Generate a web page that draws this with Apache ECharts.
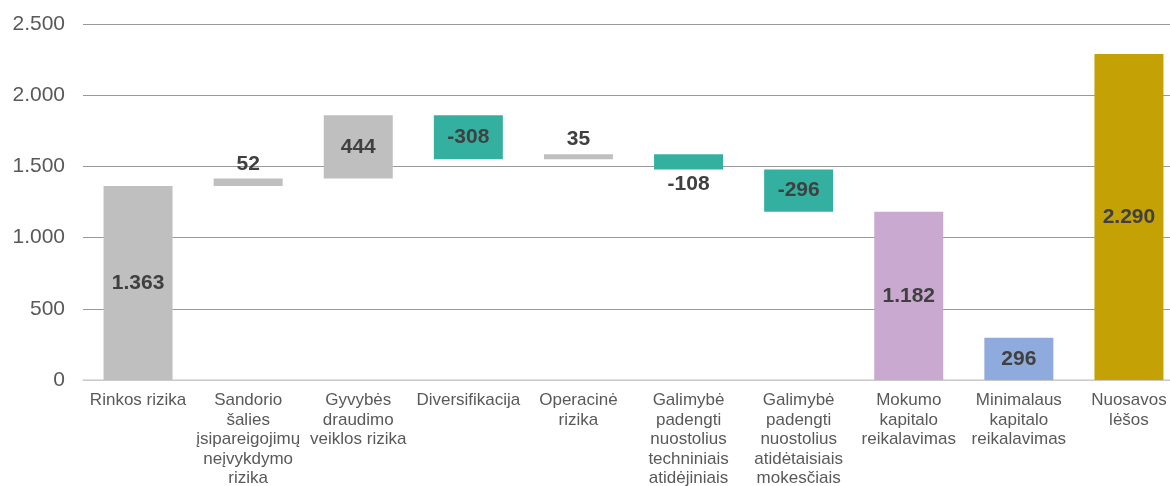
<!DOCTYPE html>
<html><head><meta charset="utf-8">
<script src="https://cdn.jsdelivr.net/npm/echarts@6/dist/echarts.min.js"></script>
<style>html,body{margin:0;padding:0;background:#fff}#c{width:1170px;height:486px}</style>
</head><body><div id="c"></div>
<script>
var categories = ["Rinkos rizika","Sandorio\nšalies\nįsipareigojimų\nneįvykdymo\nrizika","Gyvybės\ndraudimo\nveiklos rizika","Diversifikacija","Operacinė\nrizika","Galimybė\npadengti\nnuostolius\ntechniniais\natidėjiniais","Galimybė\npadengti\nnuostolius\natidėtaisiais\nmokesčiais","Mokumo\nkapitalo\nreikalavimas","Minimalaus\nkapitalo\nreikalavimas","Nuosavos\nlėšos"];
var deltas = [1363, 52, 444, -308, 35, -108, -296, 1182, 296, 2290];
var kinds = ["step","step","step","step","step","step","step","total","total","total"];
var colors = ["#BFBFBF","#BFBFBF","#BFBFBF","#33B0A0","#BFBFBF","#33B0A0","#33B0A0","#C9A9D0","#8FAADC","#C4A206"];
var labelPos = ["inside","top","inside","inside","top","bottom","inside","inside","inside","inside"];
var yTicks = [0, 500, 1000, 1500, 2000, 2500];

function fmt(v){
  var s = String(Math.abs(v)).replace(/\B(?=(\d{3})+(?!\d))/g, ".");
  return (v < 0 ? "-" : "") + s;
}

var base = [], shown = [];
var run = 0;
for (var i = 0; i < deltas.length; i++) {
  var d = deltas[i];
  if (kinds[i] === "total") { base.push(0); shown.push(d); }
  else if (d >= 0) { base.push(run); shown.push(d); run += d; }
  else { run += d; base.push(run); shown.push(-d); }
}

var visData = shown.map(function(v, i){
  return {
    value: v,
    itemStyle: {color: colors[i]},
    label: {position: labelPos[i], distance: 4}
  };
});

var chart = echarts.init(document.getElementById('c'));
chart.setOption({
  animation: false,
  grid: {left: 83, right: -14, top: 24, bottom: 106, containLabel: false, outerBoundsMode: 'none'},
  xAxis: {
    type: 'category', data: categories,
    axisLine: {lineStyle: {color: '#D9D9D9', width: 1.5}},
    axisTick: {show: false},
    axisLabel: {interval: 0, color: '#595959', fontFamily: 'Liberation Sans, Arial', fontSize: 17, lineHeight: 19.5, margin: 11}
  },
  yAxis: {
    type: 'value', min: 0, max: 2500, interval: 500,
    axisLine: {show: false}, axisTick: {show: false},
    splitLine: {lineStyle: {color: '#9A9A9A', width: 1}},
    axisLabel: {color: '#595959', fontFamily: 'Liberation Sans, Arial', fontSize: 21, margin: 18, formatter: function(v){ return fmt(v); }}
  },
  series: [
    {type: 'bar', stack: 'w', data: base, itemStyle: {color: 'transparent'}, barWidth: 69, silent: true},
    {type: 'bar', stack: 'w', data: visData, barWidth: 69,
     label: {show: true, color: '#404040', fontFamily: 'Liberation Sans, Arial', fontWeight: 'bold', fontSize: 21,
       formatter: function(p){ return fmt(deltas[p.dataIndex]); }}}
  ]
});
</script></body></html>
